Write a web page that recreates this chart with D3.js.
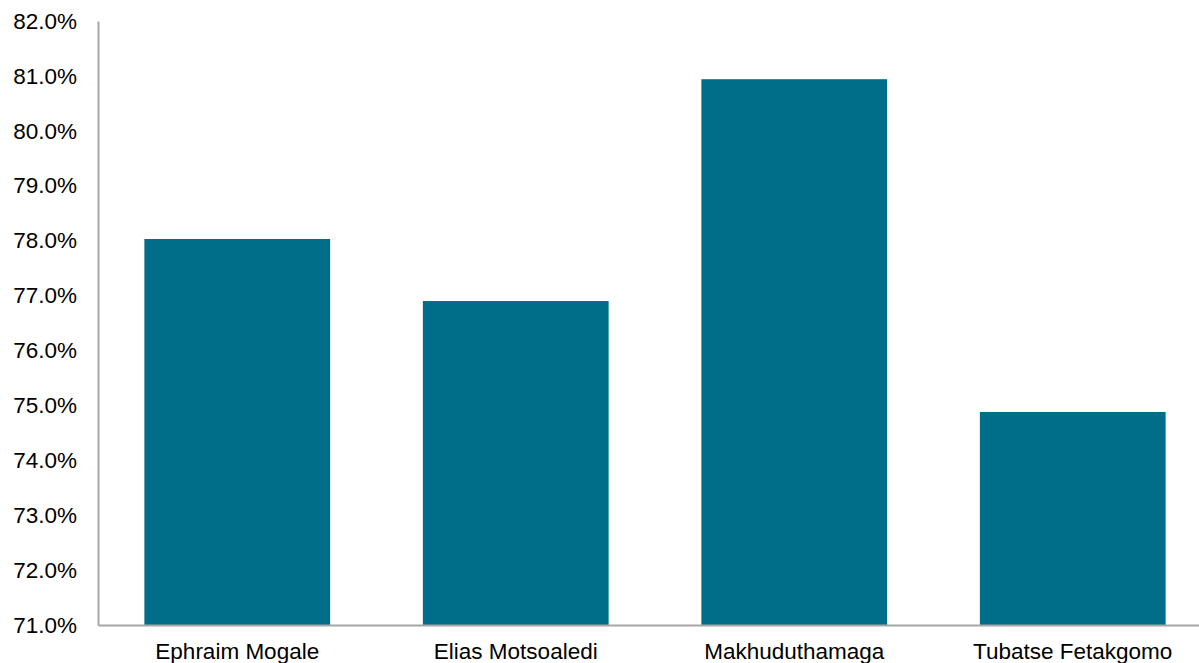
<!DOCTYPE html>
<html><head><meta charset="utf-8">
<script src="https://cdn.jsdelivr.net/npm/d3@7"></script>
<style>body{margin:0;background:#fff}svg{display:block}text{font-family:Arial,"Liberation Sans",sans-serif}</style>
</head><body>
<svg id="c" width="1199" height="663"></svg>
<script>
const categories = ["Ephraim Mogale","Elias Motsoaledi","Makhuduthamaga","Tubatse Fetakgomo"];
const values = [78.03, 76.9, 80.94, 74.88];
const yTicks = [71,72,73,74,75,76,77,78,79,80,81,82];

(function(){
const svg = d3.select("#c");
const mLeft = 98, mRight = 1212, mTop = 21, mBottom = 625;
const x = d3.scaleBand().domain(categories).range([mLeft, mRight]).paddingInner(0.333).paddingOuter(0.1665);
const y = d3.scaleLinear().domain([71, 82]).range([mBottom, mTop]);

svg.selectAll("rect.bar").data(values).join("rect").attr("class","bar")
  .attr("x",(d,i)=>x(categories[i])).attr("width",x.bandwidth())
  .attr("y",d=>y(d)).attr("height",d=>mBottom-y(d)).attr("fill","#006e89");

const ya = svg.append("g").attr("transform",`translate(${mLeft},0)`)
  .call(d3.axisLeft(y).tickValues(yTicks).tickFormat(d=>d.toFixed(1)+"%").tickSize(0).tickPadding(21));
ya.attr("font-size",22.5);
ya.select(".domain").attr("stroke","#a6a6a6").attr("stroke-width",2);
ya.selectAll("text").attr("font-size",22.5).attr("fill","#000");

const xa = svg.append("g").attr("transform",`translate(0,${mBottom})`)
  .call(d3.axisBottom(x).tickSize(0).tickPadding(18));
xa.attr("font-size",22.5);
xa.select(".domain").attr("stroke","#a6a6a6").attr("stroke-width",2);
xa.selectAll("text").attr("font-size",22.5).attr("fill","#000");
})();
</script>
</body></html>
